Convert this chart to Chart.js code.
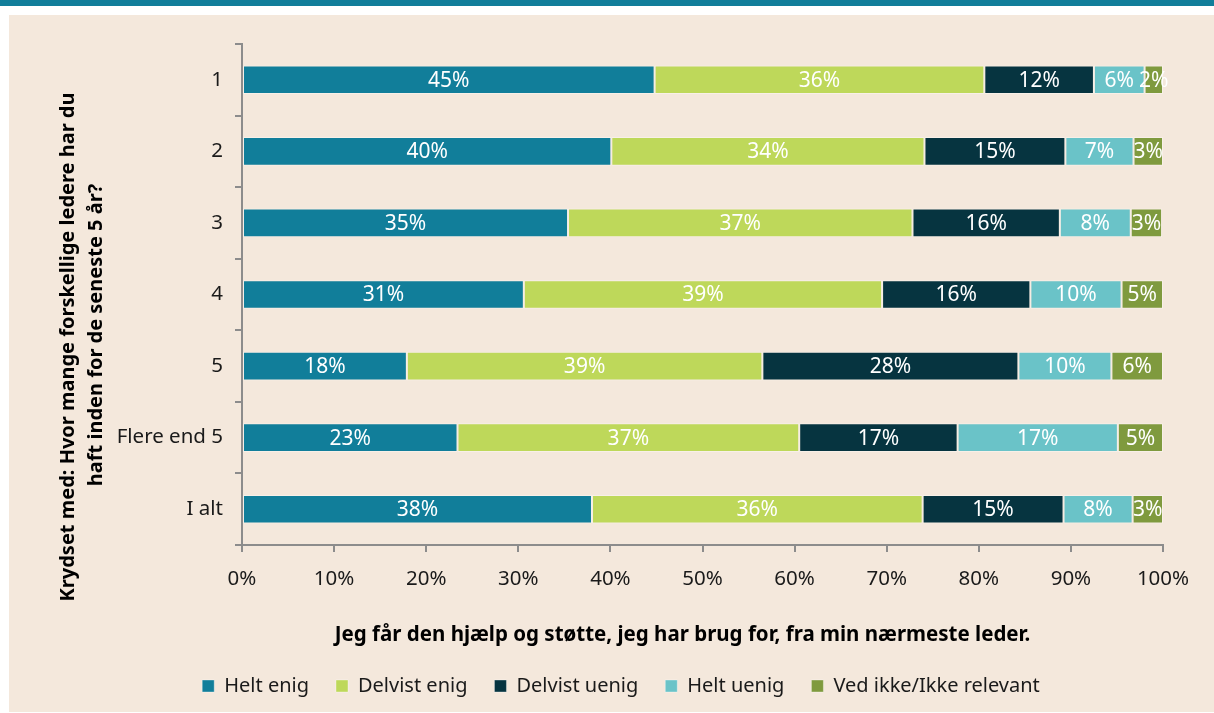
<!DOCTYPE html>
<html>
<head>
<meta charset="utf-8">
<script src="https://cdn.jsdelivr.net/npm/chart.js@4.4.1/dist/chart.umd.min.js"></script>
<style>
    body { margin: 0; background: #fff; width: 1214px; height: 713px; overflow: hidden; position: relative; }
    #topbar { position: absolute; left: 0; top: 0; width: 1214px; height: 6px; background: #117e9a; }
    #panel { position: absolute; left: 9px; top: 15px; width: 1205px; height: 697px; background: #f4e8dc; }
</style>
</head>
<body>
<div id="topbar"></div>
<div id="panel"><canvas id="chart" width="1205" height="697"></canvas></div>
<script>
// categories (number of different leaders in the last 5 years)
const categories = ['1', '2', '3', '4', '5', 'Flere end 5', 'I alt'];

// shares in percent
const heltEnig     = [44.8, 40.1, 35.4, 30.6, 17.9, 23.4, 38.0];
const delvistEnig  = [35.8, 34.0, 37.4, 38.9, 38.6, 37.1, 35.9];
const delvistUenig = [11.9, 15.3, 16.0, 16.1, 27.8, 17.2, 15.3];
const heltUenig    = [5.5, 7.4, 7.7, 9.9, 10.1, 17.4, 7.5];
const vedIkke      = [2.0, 3.2, 3.4, 4.5, 5.6, 4.9, 3.3];

const seriesNames = ['Helt enig', 'Delvist enig', 'Delvist uenig', 'Helt uenig', 'Ved ikke/Ikke relevant'];
const xTicks = [0, 10, 20, 30, 40, 50, 60, 70, 80, 90, 100];

const xTitle = 'Jeg får den hjælp og støtte, jeg har brug for, fra min nærmeste leder.';
const yTitle = ['Krydset med: Hvor mange forskellige ledere har du', 'haft inden for de seneste 5 år?'];

const colors = ['#117e9a', '#bed85a', '#063440', '#6ac3c8', '#7f9a3e'];
const FONT = '"Noto Sans", "Open Sans", sans-serif';
const AXIS_GREY = '#8c8c8c';

// white percentage labels centred in each segment
const barLabels = {
    id: 'barLabels',
    afterDatasetsDraw(chart) {
        const ctx = chart.ctx;
        ctx.save();
        ctx.font = '21px ' + FONT;
        ctx.fillStyle = '#ffffff';
        ctx.textAlign = 'center';
        ctx.textBaseline = 'middle';
        chart.data.datasets.forEach((ds, i) => {
            chart.getDatasetMeta(i).data.forEach((bar, j) => {
                const p = bar.getProps(['x', 'y', 'base'], true);
                ctx.fillText(Math.round(ds.data[j]) + '%', (p.x + p.base) / 2, p.y + 1);
            });
        });
        ctx.restore();
    }
};

// axis titles: x title sits a bit left of the plot centre, y title is two rotated lines
const axisTitles = {
    id: 'axisTitles',
    afterDraw(chart) {
        const ctx = chart.ctx;
        const area = chart.chartArea;
        ctx.save();
        ctx.fillStyle = '#000000';
        ctx.textAlign = 'center';
        ctx.textBaseline = 'middle';

        ctx.font = 'bold 20.5px ' + FONT;
        ctx.fillText(xTitle, (area.left + area.right) / 2 - 20, area.bottom + 90);

        ctx.font = 'bold 20px ' + FONT;
        ctx.translate(59, 332);
        ctx.rotate(-Math.PI / 2);
        yTitle.forEach((line, i) => ctx.fillText(line, i * 12, i * 28));
        ctx.restore();
    }
};

// the legend row in the original is centred a little right of the canvas centre
const legendShift = {
    id: 'legendShift',
    afterLayout(chart) {
        chart.legend.left += 35;
        chart.legend.right += 35;
    }
};

const seriesData = [heltEnig, delvistEnig, delvistUenig, heltUenig, vedIkke];

new Chart(document.getElementById('chart'), {
    type: 'bar',
    data: {
        labels: categories,
        datasets: seriesData.map((d, i) => ({
            label: seriesNames[i],
            data: d,
            backgroundColor: colors[i],
            borderColor: 'rgba(255,255,255,0.35)',
            borderWidth: 1,
            borderSkipped: false,
            categoryPercentage: 1,
            barPercentage: 0.4
        }))
    },
    options: {
        indexAxis: 'y',
        responsive: false,
        animation: false,
        layout: { padding: { top: 29, right: 51, left: 0, bottom: 6 } },
        scales: {
            x: {
                stacked: true,
                min: 0,
                max: 100,
                afterBuildTicks: scale => { scale.ticks = xTicks.map(v => ({ value: v })); },
                afterFit: scale => { scale.height = 104; },
                ticks: {
                    color: '#1a1a1a',
                    font: { family: FONT, size: 20.5 },
                    padding: 15,
                    callback: v => v + '%'
                },
                grid: { drawOnChartArea: false, color: AXIS_GREY, lineWidth: 2, tickLength: 7 },
                border: { color: AXIS_GREY, width: 2 }
            },
            y: {
                stacked: true,
                afterFit: scale => { scale.width = 233; },
                ticks: {
                    color: '#1a1a1a',
                    font: { family: FONT, size: 20.5 },
                    padding: 12
                },
                grid: { drawOnChartArea: false, offset: true, color: AXIS_GREY, lineWidth: 2, tickLength: 7 },
                border: { color: AXIS_GREY, width: 2 }
            }
        },
        plugins: {
            legend: {
                position: 'bottom',
                labels: {
                    color: '#1a1a1a',
                    font: { family: FONT, size: 20 },
                    boxWidth: 12,
                    boxHeight: 12,
                    padding: 27
                }
            },
            tooltip: { enabled: false }
        }
    },
    plugins: [barLabels, axisTitles, legendShift]
});
</script>
</body>
</html>
